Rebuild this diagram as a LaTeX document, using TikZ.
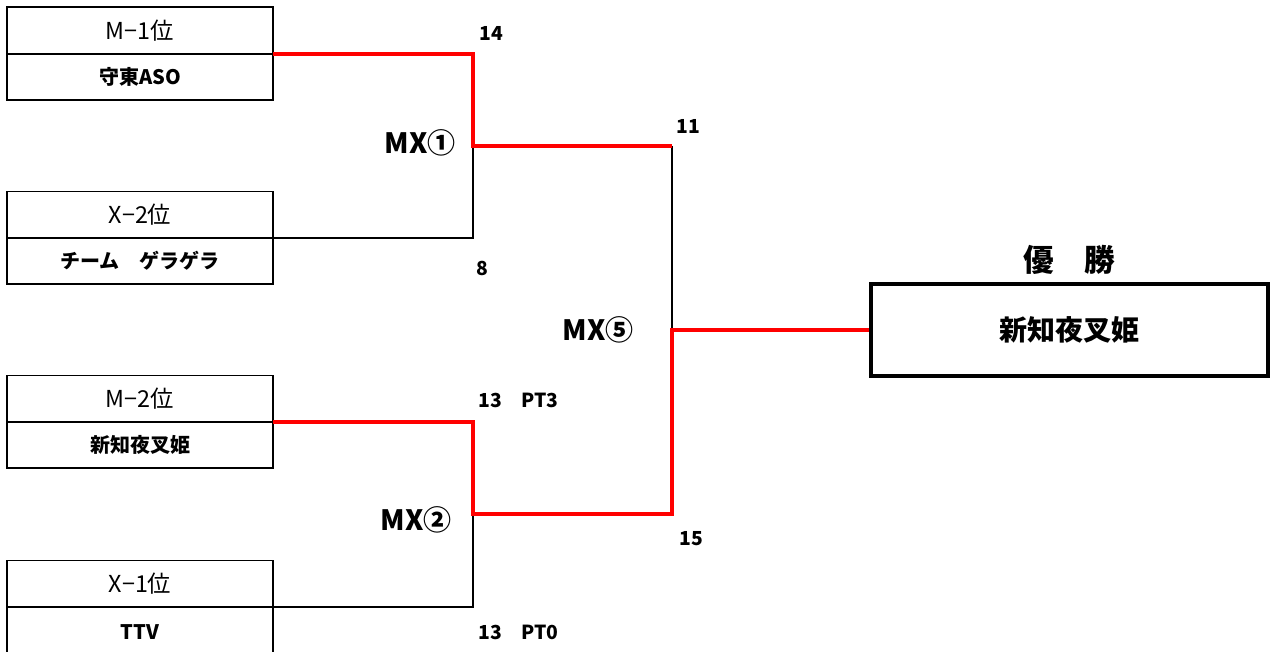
\documentclass[tikz,border=0pt]{standalone}
\usepackage{fontspec}
\setmainfont{Noto Sans CJK JP}
\usetikzlibrary{positioning,calc}
\definecolor{winred}{RGB}{255,0,0}

\tikzset{
  cell/.style={draw, line width=1.4pt, minimum width=199.5pt,
    inner sep=0pt, outer sep=0pt},
  rankcell/.style={cell, minimum height=35.25pt,
    font=\fontsize{17.5}{17.5}\selectfont},
  teamcell/.style={cell, minimum height=34.5pt,
    font=\fontsize{15}{15}\selectfont\bfseries},
  winline/.style={draw=winred, line width=2.4pt},
  loseline/.style={draw=black, line width=1.1pt},
  score/.style={anchor=west, inner sep=0pt,
    font=\fontsize{14.5}{14.5}\selectfont\bfseries},
  matchlbl/.style={anchor=east, inner sep=0pt,
    font=\fontsize{21}{21}\selectfont\bfseries},
}

\begin{document}
\begin{tikzpicture}[x=0.75pt, y=-0.75pt]
\useasboundingbox (0,0) rectangle (1271,652);
% entry boxes
\node[rankcell] (rk1) at (140,30.5) {M−1位};
\node[teamcell] (tm1) at (140,77) {守東ASO};
\node[rankcell] (rk2) at (140,215) {X−2位};
\node[teamcell] (tm2) at (140,261) {チーム　ゲラゲラ};
\node[rankcell] (rk3) at (140,399) {M−2位};
\node[teamcell] (tm3) at (140,445) {新知夜叉姫};
\node[rankcell] (rk4) at (140,584) {X−1位};
\node[teamcell, minimum height=37.5pt] (tm4) at (140,632) {TTV};
% champion
\node[draw, line width=3pt, minimum width=297.75pt, minimum height=69pt,
  inner sep=0pt, font=\fontsize{21}{21}\selectfont\bfseries]
  (champ) at (1069.5,330) {新知夜叉姫};
\node[font=\fontsize{23}{23}\selectfont\bfseries, above=2pt of champ]
  (title) {優　勝};
% junctions
\coordinate (j1) at (473,146);
\coordinate (j2) at (473,514);
\coordinate (fin) at (672,330);
% losers
\draw[loseline] (tm2.north east) -| (j1);
\draw[loseline] (tm4.north east) -| (j2);
\draw[loseline] (j1 -| fin) -- (fin);
% winners
\draw[winline] (tm1.north east) -| (j1) -- (j1 -| fin);
\draw[winline] (tm3.north east) -| (j2) -| (fin) -- (champ.west);
% match labels
\node[matchlbl] (mx1) at (456,143) {MX①};
\node[matchlbl] (mx2) at (452,520) {MX②};
\node[matchlbl] (mx5) at (634,330) {MX⑤};
% scores
\node[score] (s14) at (479,33) {14};
\node[score] (s8) at (476,268) {8};
\node[score] (s11) at (676,126) {11};
\node[score] (s13a) at (478,400) {13\quad PT3};
\node[score] (s15) at (679,539) {15};
\node[score] (s13b) at (478,632) {13\quad PT0};
\end{tikzpicture}
\end{document}
